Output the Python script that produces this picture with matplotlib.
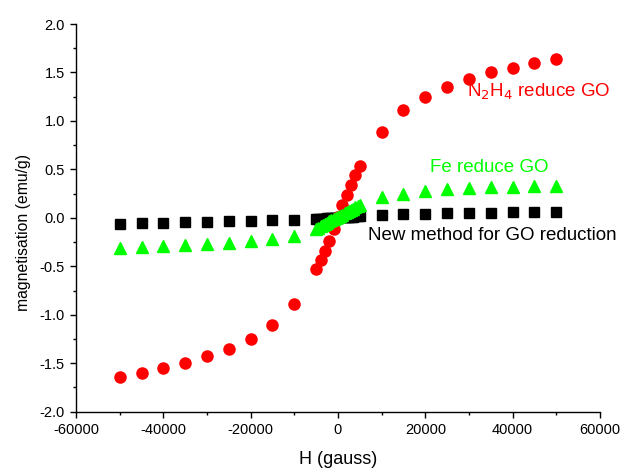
import numpy as np
import matplotlib
matplotlib.use('Agg')
import matplotlib.pyplot as plt
from matplotlib.ticker import MultipleLocator

plt.rcParams['font.family'] = ['Liberation Sans', 'DejaVu Sans']
plt.rcParams['axes.unicode_minus'] = False

# N2H4 reduced GO (red circles)
h_red = [-50000, -45000, -40000, -35000, -30000, -25000, -20000, -15000, -10000,
         -5000, -4000, -3000, -2000, -1000, 0, 1000, 2000, 3000, 4000, 5000,
         10000, 15000, 20000, 25000, 30000, 35000, 40000, 45000, 50000]
m_red = [-1.64, -1.60, -1.55, -1.50, -1.43, -1.35, -1.25, -1.11, -0.89,
         -0.53, -0.43, -0.34, -0.24, -0.12, 0.01, 0.13, 0.24, 0.34, 0.44, 0.53,
         0.89, 1.11, 1.25, 1.35, 1.43, 1.50, 1.55, 1.60, 1.64]

# Fe reduced GO (green triangles)
h_green = [-50000, -45000, -40000, -35000, -30000, -25000, -20000, -15000, -10000,
           -5000, -4500, -4000, -3500, -3000, -2500, -2000, -1500, -1000, -500, 0,
           500, 1000, 1500, 2000, 2500, 3000, 3500, 4000, 4500, 5000,
           10000, 15000, 20000, 25000, 30000, 35000, 40000, 45000, 50000]
m_green = [-0.31, -0.30, -0.29, -0.28, -0.27, -0.26, -0.24, -0.22, -0.19,
           -0.11, -0.10, -0.08, -0.07, -0.06, -0.05, -0.03, -0.02, -0.01, 0.00, 0.01,
           0.02, 0.03, 0.05, 0.06, 0.07, 0.08, 0.09, 0.11, 0.12, 0.13,
           0.21, 0.25, 0.28, 0.30, 0.31, 0.32, 0.32, 0.33, 0.33]

# new method (black squares)
h_black = [-50000, -45000, -40000, -35000, -30000, -25000, -20000, -15000, -10000,
           -5000, -4500, -4000, -3500, -3000, -2500, -2000, -1500, -1000, -500, 0,
           500, 1000, 1500, 2000, 2500, 3000, 3500, 4000, 4500, 5000,
           10000, 15000, 20000, 25000, 30000, 35000, 40000, 45000, 50000]
m_black = [-0.06, -0.055, -0.05, -0.045, -0.04, -0.035, -0.03, -0.025, -0.02,
           -0.015, -0.014, -0.012, -0.010, -0.008, -0.006, -0.004, -0.002, 0.000, 0.002, 0.003,
           0.005, 0.006, 0.008, 0.010, 0.011, 0.012, 0.013, 0.014, 0.015, 0.016,
           0.025, 0.035, 0.04, 0.045, 0.05, 0.055, 0.06, 0.065, 0.065]

fig = plt.figure(figsize=(6.22, 4.69), dpi=100)
ax = fig.add_axes([0.1222, 0.1222, 0.8424, 0.8266])

ax.plot(h_black, m_black, 's', color='black', markersize=6.5, linestyle='none')
ax.plot(h_red, m_red, 'o', color='#ff0000', markersize=8, linestyle='none')
ax.plot(h_green, m_green, '^', color='#00ff00', markersize=8, linestyle='none')

ax.text(29500, 1.30, 'N$_2$H$_4$ reduce GO', color='#ff0000', fontsize=13.5, va='center')
ax.text(21000, 0.52, 'Fe reduce GO', color='#00ff00', fontsize=13.5, va='center')
ax.text(6900, -0.18, 'New method for GO reduction', color='black', fontsize=13.5, va='center')

ax.set_xlim(-60000, 60000)
ax.set_ylim(-2.0, 2.0)
ax.xaxis.set_major_locator(MultipleLocator(20000))
ax.xaxis.set_minor_locator(MultipleLocator(10000))
ax.yaxis.set_major_locator(MultipleLocator(0.5))
ax.yaxis.set_minor_locator(MultipleLocator(0.25))
ax.yaxis.set_major_formatter(matplotlib.ticker.FormatStrFormatter('%.1f'))

ax.spines['top'].set_visible(False)
ax.spines['right'].set_visible(False)
for s in ['left', 'bottom']:
    ax.spines[s].set_linewidth(1.0)
ax.tick_params(which='major', direction='out', length=4.5, width=1.0, labelsize=10.5)
ax.tick_params(which='minor', direction='out', length=2.2, width=1.0)

ax.set_xlabel('H (gauss)', fontsize=13, labelpad=10)
ax.set_ylabel('magnetisation (emu/g)', fontsize=11.3)
ax.yaxis.set_label_coords(-0.085, 0.463)

fig.savefig('out.png', dpi=100)
